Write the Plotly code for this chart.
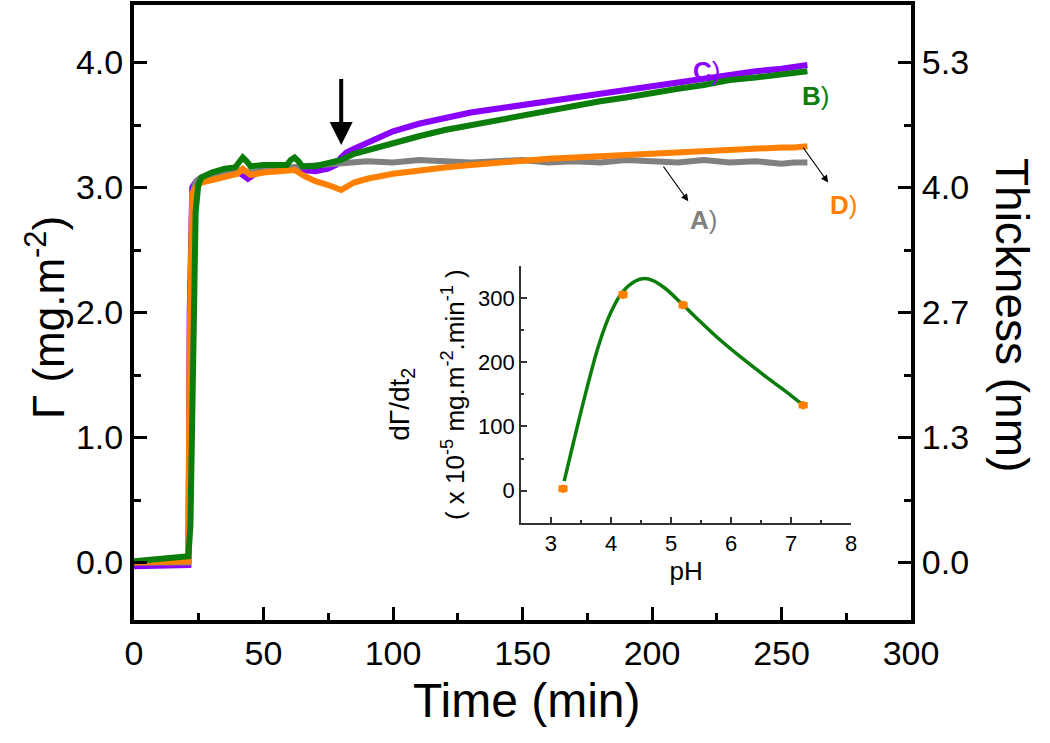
import plotly.graph_objects as go

# ---------------- data ----------------
t_A = [0, 5, 10, 15, 20, 21, 21.5, 22.5, 24, 26, 30, 35, 40, 45, 50, 55, 60, 65, 70, 75, 80, 85, 90,
       100, 110, 120, 130, 140, 150, 160, 170, 180, 190, 200, 210, 220, 230, 240, 250, 255, 260]
y_A = [0.0, 0.0, -0.01, 0.0, 0.0, 0.0, 1.5, 2.95, 3.05, 3.08, 3.1, 3.12, 3.14, 3.12, 3.14, 3.15, 3.16,
       3.17, 3.17, 3.18, 3.2, 3.2, 3.21, 3.2, 3.22, 3.21, 3.2, 3.21, 3.22, 3.2, 3.21, 3.2, 3.22, 3.21,
       3.2, 3.22, 3.2, 3.21, 3.19, 3.2, 3.2]

t_C = [0, 5, 10, 15, 20, 21, 21.5, 22.5, 24, 26, 30, 35, 40, 42, 44, 46, 50, 55, 60, 65, 70, 75, 78,
       80, 82, 85, 90, 95, 100, 110, 120, 130, 140, 150, 160, 170, 180, 190, 200, 210, 220, 230, 240,
       250, 255, 260]
y_C = [-0.03, -0.03, -0.02, -0.03, -0.02, -0.02, 2.0, 3.0, 3.05, 3.08, 3.1, 3.12, 3.13, 3.1, 3.07,
       3.1, 3.15, 3.15, 3.16, 3.14, 3.13, 3.15, 3.18, 3.24, 3.28, 3.31, 3.36, 3.41, 3.45, 3.51, 3.56,
       3.6, 3.63, 3.66, 3.7, 3.73, 3.76, 3.79, 3.81, 3.84, 3.87, 3.9, 3.93, 3.95, 3.97, 3.98]

t_B = [0, 5, 10, 15, 20, 21, 21.8, 22.8, 23.8, 24.8, 26, 30, 35, 39, 40.5, 42, 43.5, 45, 50, 55, 59,
       60.5, 62, 63.5, 65, 70, 75, 80, 85, 90, 100, 110, 120, 130, 140, 150, 160, 170, 180, 190, 200,
       210, 220, 230, 240, 250, 255, 260]
y_B = [0.01, 0.02, 0.03, 0.04, 0.05, 0.05, 0.3, 1.6, 2.8, 3.02, 3.08, 3.12, 3.15, 3.16, 3.21, 3.24,
       3.21, 3.17, 3.18, 3.18, 3.18, 3.22, 3.24, 3.21, 3.17, 3.17, 3.2, 3.22, 3.27, 3.3, 3.35, 3.41,
       3.46, 3.5, 3.54, 3.57, 3.61, 3.65, 3.69, 3.72, 3.76, 3.79, 3.82, 3.86, 3.88, 3.91, 3.92, 3.93]

t_D = [0, 5, 10, 15, 20, 21, 21.5, 22.5, 24, 26, 30, 35, 40, 42, 45, 50, 55, 60, 62, 66, 70, 75, 80,
       85, 90, 100, 110, 120, 130, 140, 150, 160, 170, 180, 190, 200, 210, 220, 230, 240, 250, 255, 260]
y_D = [0.0, 0.0, 0.01, 0.0, 0.01, 0.01, 1.8, 2.95, 3.0, 3.04, 3.06, 3.08, 3.11, 3.15, 3.1, 3.12, 3.13,
       3.14, 3.14, 3.09, 3.05, 3.02, 2.98, 3.04, 3.07, 3.11, 3.14, 3.16, 3.18, 3.2, 3.22, 3.23, 3.24,
       3.25, 3.27, 3.28, 3.28, 3.29, 3.3, 3.31, 3.32, 3.32, 3.33]

# inset: rate vs pH
pH_pts = [3.2, 4.2, 5.2, 7.2]
rate_pts = [3, 305, 289, 133]
rate_err = [4, 4, 4, 3]
pH_fit = [3.22, 3.4, 3.6, 3.8, 4.0, 4.2, 4.4, 4.55, 4.7, 4.9, 5.2, 5.5, 5.8, 6.2, 6.6, 7.0, 7.2]
rate_fit = [15, 85, 160, 228, 278, 310, 326, 330, 327, 315, 289, 262, 236, 205, 176, 148, 133]

# right axis (thickness) ticks
thick_vals = [0, 4 / 3, 8 / 3, 4, 16 / 3]
thick_text = ["0.0", "1.3", "2.7", "4.0", "5.3"]

PURPLE = "#8a00ff"
GREEN = "#0b7d0b"
GREY = "#808080"
ORANGE = "#ff8000"
FONT = "Liberation Sans, Arial, Helvetica, sans-serif"

fig = go.Figure()
lw = 6
fig.add_trace(go.Scatter(x=t_C, y=y_C, mode="lines", line=dict(color=PURPLE, width=lw), name="C"))
fig.add_trace(go.Scatter(x=t_A, y=y_A, mode="lines", line=dict(color=GREY, width=lw), name="A"))
fig.add_trace(go.Scatter(x=t_D, y=y_D, mode="lines", line=dict(color=ORANGE, width=lw), name="D"))
fig.add_trace(go.Scatter(x=t_B, y=y_B, mode="lines", line=dict(color=GREEN, width=lw), name="B"))
fig.add_trace(go.Scatter(x=[], y=[], yaxis="y2", showlegend=False))

fig.add_trace(go.Scatter(x=pH_fit, y=rate_fit, mode="lines", line=dict(color=GREEN, width=3.5, shape="spline"),
                         xaxis="x3", yaxis="y3"))
fig.add_trace(go.Scatter(x=pH_pts, y=rate_pts, mode="markers", xaxis="x3", yaxis="y3",
                         marker=dict(color=ORANGE, size=9, symbol="hexagon"),
                         error_y=dict(type="data", array=rate_err, color=ORANGE, thickness=2, width=4),
                         error_x=dict(type="constant", value=0.06, color=ORANGE, thickness=2, width=3)))

axis_common = dict(showgrid=False, zeroline=False, linecolor="black", linewidth=4,
                   ticks="inside", tickwidth=3, ticklen=13, tickcolor="black",
                   tickfont=dict(family=FONT, size=34, color="black"))

fig.update_layout(
    width=1050, height=743,
    margin=dict(l=134, r=139, t=5, b=123),
    paper_bgcolor="white", plot_bgcolor="white",
    showlegend=False,
    font=dict(family=FONT, color="black"),
    xaxis=dict(range=[0, 300], tickvals=[0, 50, 100, 150, 200, 250, 300], mirror=True,
               minor=dict(dtick=25, tick0=0, ticks="inside", ticklen=7, tickwidth=3, tickcolor="black"),
               automargin=False, **axis_common),
    yaxis=dict(range=[-0.46, 4.46], tickvals=[0, 1, 2, 3, 4], ticktext=["0.0", "1.0", "2.0", "3.0", "4.0"],
               minor=dict(dtick=0.5, tick0=0, ticks="inside", ticklen=7, tickwidth=3, tickcolor="black"),
               automargin=False, **axis_common),
    yaxis2=dict(range=[-0.46 * 4 / 3, 4.46 * 4 / 3], overlaying="y", side="right", anchor="x",
                tickvals=thick_vals, ticktext=thick_text,
                minor=dict(dtick=2 / 3, tick0=0, ticks="inside", ticklen=7, tickwidth=3, tickcolor="black"),
                automargin=False, **axis_common),
    xaxis3=dict(domain=[0.498, 0.923], anchor="y3", range=[2.5, 8], tickvals=[3, 4, 5, 6, 7, 8],
                showgrid=False, zeroline=False, linecolor="#333", linewidth=1.5,
                ticks="inside", ticklen=6, tickwidth=1.5, tickcolor="#333",
                minor=dict(dtick=0.5, tick0=0, ticks="inside", ticklen=3, tickwidth=1.5, tickcolor="#333"),
                tickfont=dict(family=FONT, size=22, color="black"),
                title=dict(text="pH", font=dict(family=FONT, size=26), standoff=4)),
    yaxis3=dict(domain=[0.158, 0.576], anchor="x3", range=[-50, 350], tickvals=[0, 100, 200, 300],
                showgrid=False, zeroline=False, linecolor="#333", linewidth=1.5,
                ticks="inside", ticklen=6, tickwidth=1.5, tickcolor="#333",
                minor=dict(dtick=50, tick0=0, ticks="inside", ticklen=3, tickwidth=1.5, tickcolor="#333"),
                tickfont=dict(family=FONT, size=22, color="black")),
)

ann = []
# axis titles
ann.append(dict(x=0.506, y=-0.1317, xref="paper", yref="paper", text="Time (min)", xanchor="center",
                yanchor="middle", showarrow=False, font=dict(family=FONT, size=48, color="black")))
ann.append(dict(x=-0.1145, y=0.491, xref="paper", yref="paper", text="Γ (mg.m<sup>-2</sup>)",
                textangle=-90, xanchor="center", yanchor="middle", showarrow=False,
                font=dict(family=FONT, size=44, color="black")))
ann.append(dict(x=1.13, y=0.496, xref="paper", yref="paper", text="Thickness (nm)", textangle=90,
                xanchor="center", yanchor="middle", showarrow=False,
                font=dict(family=FONT, size=46, color="black")))
# series labels
ann.append(dict(x=221, y=3.93, xref="x", yref="y", text="<b>C</b>)", showarrow=False,
                font=dict(family=FONT, size=26, color=PURPLE)))
ann.append(dict(x=263, y=3.73, xref="x", yref="y", text="<b>B</b>)", showarrow=False,
                font=dict(family=FONT, size=26, color=GREEN)))
ann.append(dict(x=220, y=2.74, xref="x", yref="y", text="<b>A</b>)", showarrow=False,
                font=dict(family=FONT, size=26, color=GREY)))
ann.append(dict(x=274, y=2.86, xref="x", yref="y", text="<b>D</b>)", showarrow=False,
                font=dict(family=FONT, size=26, color=ORANGE)))
# thin pointer arrows
ann.append(dict(x=214, y=2.89, ax=204, ay=3.18, xref="x", yref="y", axref="x", ayref="y", text="",
                showarrow=True, arrowhead=2, arrowsize=1.2, arrowwidth=1.2, arrowcolor="black"))
ann.append(dict(x=268, y=3.04, ax=258, ay=3.33, xref="x", yref="y", axref="x", ayref="y", text="",
                showarrow=True, arrowhead=2, arrowsize=1.2, arrowwidth=1.2, arrowcolor="black"))
# big arrow marking pH change
ann.append(dict(x=80, y=3.34, ax=80, ay=3.88, xref="x", yref="y", axref="x", ayref="y", text="",
                showarrow=True, arrowhead=2, arrowsize=1.15, arrowwidth=4, arrowcolor="black"))
# inset y title
ann.append(dict(x=0.345, y=0.35, xref="paper", yref="paper", text="dΓ/dt<sub>2</sub>", textangle=-90,
                xanchor="center", yanchor="middle", showarrow=False,
                font=dict(family=FONT, size=28, color="black")))
ann.append(dict(x=0.412, y=0.366, xref="paper", yref="paper",
                text="( x 10<sup>-5</sup> mg.m<sup>-2</sup>.min<sup>-1</sup> )", textangle=-90,
                xanchor="center", yanchor="middle", showarrow=False,
                font=dict(family=FONT, size=26, color="black")))
fig.update_layout(annotations=ann)

fig.write_html("out.html", config={"displayModeBar": False},
               post_script="document.body.style.margin='0px';")
